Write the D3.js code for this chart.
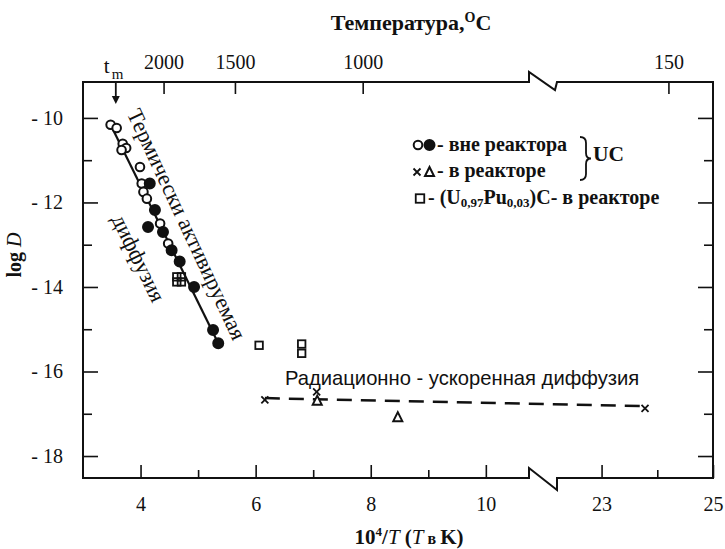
<!DOCTYPE html>
<html><head><meta charset="utf-8">
<script src="https://cdn.jsdelivr.net/npm/d3@7"></script>
<style>
body{margin:0;background:#fff}
svg{display:block}
</style>
</head><body>
<svg id="chart" width="725" height="549"></svg>
<script>
// UC outside the reactor: open and filled circles (10^4/T, log D)
const outOpen = [[3.48,-10.16],[3.585,-10.24],[3.69,-10.61],[3.75,-10.71],[3.67,-10.76],[3.99,-11.16],[4.02,-11.55],[4.05,-11.75],[4.11,-11.91],[4.34,-12.50],[4.48,-12.97]];
const outFilled = [[4.16,-11.55],[4.25,-12.18],[4.13,-12.58],[4.39,-12.70],[4.54,-13.13],[4.68,-13.40],[4.93,-14.00],[5.26,-15.02],[5.35,-15.33]];
// UC in the reactor: crosses and triangles
const inCross = [[6.16,-16.67],[7.06,-16.48],[23.78,-16.87]];
const inTriangle = [[7.07,-16.69],[8.47,-17.08]];
// (U0.97Pu0.03)C in the reactor: squares
const upcSquare = [[4.63,-13.76],[4.71,-13.76],[4.63,-13.88],[4.71,-13.88],[6.06,-15.38],[6.80,-15.35],[6.80,-15.57]];
// Trend lines
const thermalFit = [[3.48,-10.16],[5.35,-15.33]];
const radiationFit = [[6.16,-16.63],[23.78,-16.82]];
// Axis ticks
const bottomMajor = [4,6,8,10,23,25];
const bottomMinor = [5,7,9,24];
const leftMajor = [-10,-12,-14,-16,-18];
const leftMinor = [-11,-13,-15,-17];
const tempLabels = ["2000","1500","1000","150"];
const tempPos = [4.40,5.64,7.86,24.2];
const meltPos = 3.57;

const serif = "'Liberation Serif','Times New Roman',serif";
const sans = "'Liberation Sans',Arial,sans-serif";

const svg = d3.select("#chart");
svg.append("rect").attr("width",725).attr("height",549).attr("fill","#fff");

// Broken x axis: two linear pieces
const breakLo = 10.75, breakHi = 22.2;
const xA = d3.scaleLinear().domain([3, breakLo]).range([83, 529]);
const xB = d3.scaleLinear().domain([breakHi, 25]).range([557, 713]);
const x = v => v < 15 ? xA(v) : xB(v);
const y = d3.scaleLinear().domain([-18.52, -9.15]).range([478, 82]);

const yTop = y.range()[1], yBot = y.range()[0];
const xLeft = xA.range()[0], xRight = xB.range()[1];
const b0 = xA.range()[1], b1 = xB.range()[0];

// Frame with break marks on top and bottom
svg.append("path")
  .attr("d", `M${xLeft},${yBot} V${yTop} H${b0} V${yTop-10} L${b1-2},${yTop+8} L${b1},${yTop} H${xRight} V${yBot} H${b1} V${yBot+12} L${b0},${yBot-10} V${yBot} H${xLeft} Z`)
  .attr("fill","none").attr("stroke","#111").attr("stroke-width",2);

function styleAxis(g, size){
  g.select(".domain").remove();
  g.selectAll(".tick line").attr("stroke","#111").attr("stroke-width",1.6);
  g.selectAll(".tick text").attr("font-family", serif).attr("font-size", size).attr("fill","#111");
}

// Bottom axis
const inA = v => v <= breakLo, inB = v => v >= breakHi;
svg.append("g").attr("transform",`translate(0,${yBot})`)
  .call(d3.axisBottom(xA).tickValues(bottomMajor.filter(inA)).tickSize(-13).tickPadding(19).tickFormat(d3.format("d")))
  .call(g => styleAxis(g, 20));
svg.append("g").attr("transform",`translate(0,${yBot})`)
  .call(d3.axisBottom(xB).tickValues(bottomMajor.filter(inB)).tickSize(-13).tickPadding(19).tickFormat(d3.format("d")))
  .call(g => styleAxis(g, 20));
svg.append("g").attr("transform",`translate(0,${yBot})`)
  .call(d3.axisBottom(xA).tickValues(bottomMinor.filter(inA)).tickSize(-8).tickFormat(""))
  .call(g => styleAxis(g, 20));
svg.append("g").attr("transform",`translate(0,${yBot})`)
  .call(d3.axisBottom(xB).tickValues(bottomMinor.filter(inB)).tickSize(-8).tickFormat(""))
  .call(g => styleAxis(g, 20));

// Left axis
svg.append("g").attr("transform",`translate(${xLeft},0)`)
  .call(d3.axisLeft(y).tickValues(leftMajor).tickSize(-15).tickPadding(20).tickFormat(d => "- " + Math.abs(d)))
  .call(g => styleAxis(g, 20));
svg.append("g").attr("transform",`translate(${xLeft},0)`)
  .call(d3.axisLeft(y).tickValues(leftMinor).tickSize(-9).tickFormat(""))
  .call(g => styleAxis(g, 20));
// Right axis
svg.append("g").attr("transform",`translate(${xRight},0)`)
  .call(d3.axisRight(y).tickValues(leftMajor).tickSize(-15).tickFormat(""))
  .call(g => styleAxis(g, 20));
svg.append("g").attr("transform",`translate(${xRight},0)`)
  .call(d3.axisRight(y).tickValues(leftMinor).tickSize(-9).tickFormat(""))
  .call(g => styleAxis(g, 20));

// Top temperature axis
const tempA = tempPos.filter(inA), tempB = tempPos.filter(inB);
svg.append("g").attr("transform",`translate(0,${yTop})`)
  .call(d3.axisTop(xA).tickValues(tempA).tickSize(-12).tickPadding(13)
    .tickFormat(d => tempLabels[tempPos.indexOf(d)]))
  .call(g => styleAxis(g, 20));
svg.append("g").attr("transform",`translate(0,${yTop})`)
  .call(d3.axisTop(xB).tickValues(tempB).tickSize(-12).tickPadding(13)
    .tickFormat(d => tempLabels[tempPos.indexOf(d)]))
  .call(g => styleAxis(g, 20));

// Melting point marker
const mx = x(meltPos);
svg.append("line").attr("x1",mx).attr("x2",mx).attr("y1",yTop).attr("y2",yTop+17)
  .attr("stroke","#111").attr("stroke-width",1.8);
svg.append("path").attr("d",`M${mx-4},${yTop+14} L${mx+4},${yTop+14} L${mx},${yTop+22} Z`).attr("fill","#111");
const tm = svg.append("text").attr("x", mx-12).attr("y", yTop-9)
  .attr("font-family", serif).attr("font-size", 21).attr("fill","#111");
tm.append("tspan").text("t");
tm.append("tspan").attr("dy",6).attr("dx",2).attr("font-size",15).text("m");

// Axis titles
const tt = svg.append("text").attr("x", 411).attr("y", 30).attr("text-anchor","middle")
  .attr("font-family", serif).attr("font-size", 22).attr("font-weight","bold").attr("fill","#111");
tt.append("tspan").text("Температура,");
tt.append("tspan").attr("dy",-8).attr("font-size",14).text("O");
tt.append("tspan").attr("dy",8).text("C");

const bt = svg.append("text").attr("x", 409).attr("y", 544).attr("text-anchor","middle")
  .attr("font-family", serif).attr("font-size", 21).attr("font-weight","bold").attr("fill","#111");
bt.append("tspan").text("10");
bt.append("tspan").attr("dy",-8).attr("font-size",13).text("4");
bt.append("tspan").attr("dy",8).text("/");
bt.append("tspan").attr("font-style","italic").attr("font-weight","normal").text("T");
bt.append("tspan").text(" (");
bt.append("tspan").attr("font-style","italic").attr("font-weight","normal").text("T");
bt.append("tspan").attr("font-size",16).text(" в ");
bt.append("tspan").text("K)");

const lt = svg.append("text").attr("transform","translate(21,255) rotate(-90)").attr("text-anchor","middle")
  .attr("font-family", serif).attr("font-size", 20).attr("font-weight","bold").attr("fill","#111");
lt.append("tspan").text("log ");
lt.append("tspan").attr("font-style","italic").attr("font-weight","normal").text("D");

// Trend lines
const line = d3.line().x(d => x(d[0])).y(d => y(d[1]));
svg.append("path").datum(thermalFit).attr("d", line)
  .attr("fill","none").attr("stroke","#111").attr("stroke-width",2.2);
svg.append("path").datum(radiationFit).attr("d", line)
  .attr("fill","none").attr("stroke","#111").attr("stroke-width",2.5).attr("stroke-dasharray","15,9");

// Markers
function circle(g, cx, cy, filled){
  g.append("circle").attr("cx",cx).attr("cy",cy).attr("r", filled ? 5 : 4.3)
    .attr("fill", filled ? "#111" : "#fff").attr("stroke","#111").attr("stroke-width",2);
}
function square(g, cx, cy, s){
  g.append("rect").attr("x",cx-s/2).attr("y",cy-s/2).attr("width",s).attr("height",s)
    .attr("fill","none").attr("stroke","#111").attr("stroke-width",1.8);
}
function cross(g, cx, cy){
  const s = 3.5;
  g.append("path").attr("d",`M${cx-s},${cy-s}L${cx+s},${cy+s}M${cx-s},${cy+s}L${cx+s},${cy-s}`)
    .attr("stroke","#111").attr("stroke-width",1.8);
}
function tri(g, cx, cy){
  g.append("path").attr("d",`M${cx},${cy-5} L${cx+4.5},${cy+4} L${cx-4.5},${cy+4} Z`)
    .attr("fill","#fff").attr("stroke","#111").attr("stroke-width",2);
}
const marks = svg.append("g");
outOpen.forEach(d => circle(marks, x(d[0]), y(d[1]), false));
outFilled.forEach(d => circle(marks, x(d[0]), y(d[1]), true));
upcSquare.forEach(d => square(marks, x(d[0]), y(d[1]), 7.5));
inTriangle.forEach(d => tri(marks, x(d[0]), y(d[1])));
inCross.forEach(d => cross(marks, x(d[0]), y(d[1])));

// Region annotations
svg.append("text").attr("transform","translate(187,224) rotate(65)").attr("text-anchor","middle")
  .attr("dy","0.35em").attr("font-family", serif).attr("font-size", 22.5).attr("fill","#111")
  .text("Термически активируемая");
svg.append("text").attr("transform","translate(139,258) rotate(64)").attr("text-anchor","middle")
  .attr("dy","0.35em").attr("font-family", serif).attr("font-size", 22.5).attr("fill","#111")
  .text("диффузия");
svg.append("text").attr("x",285).attr("y",385)
  .attr("font-family", sans).attr("font-size", 20.2).attr("fill","#111")
  .text("Радиационно - ускоренная диффузия");

// Legend
const lg = svg.append("g").attr("font-family", serif).attr("font-weight","bold").attr("font-size",20).attr("fill","#111");
circle(lg, 418, 145, false);
circle(lg, 429.5, 145, true);
lg.append("text").attr("x",437).attr("y",150.5).text("- вне реактора");
cross(lg, 417, 172);
tri(lg, 429.5, 172);
lg.append("text").attr("x",437).attr("y",177).text("- в реакторе");
square(lg, 420, 198.5, 8.5);
const l3 = lg.append("text").attr("x",428).attr("y",204);
l3.append("tspan").text("- (U");
l3.append("tspan").attr("dy",3).attr("font-size",13).text("0,97");
l3.append("tspan").attr("dy",-3).text("Pu");
l3.append("tspan").attr("dy",3).attr("font-size",13).text("0,03");
l3.append("tspan").attr("dy",-3).text(")C- в реакторе");
lg.append("path").attr("d","M580,137 Q586,137 586,143 L586,153 Q586,158.5 591,158.5 Q586,158.5 586,164 L586,174 Q586,180 580,180")
  .attr("fill","none").attr("stroke","#111").attr("stroke-width",1.8);
lg.append("text").attr("x",593).attr("y",160.5).attr("font-size",21.5).text("UC");
</script>
</body></html>
